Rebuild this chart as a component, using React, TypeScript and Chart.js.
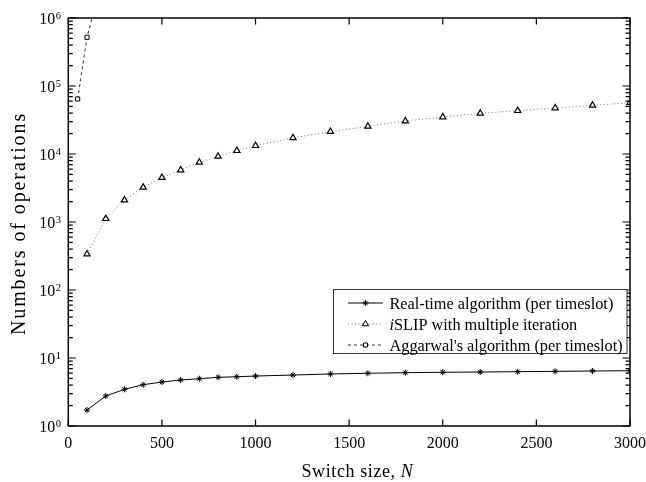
import React, { useEffect, useRef } from "react";
import { Chart, registerables } from "chart.js";

Chart.register(...registerables);

// ---- data ----
const switchSizes = [100, 200, 300, 400, 500, 600, 700, 800, 900, 1000, 1200, 1400, 1600, 1800, 2000, 2200, 2400, 2600, 2800, 3000];
const realTimeOps = [1.72, 2.76, 3.46, 4.05, 4.43, 4.75, 4.96, 5.2, 5.3, 5.43, 5.62, 5.82, 5.96, 6.08, 6.17, 6.22, 6.29, 6.37, 6.44, 6.5];
const islipOps = [338, 1118, 2100, 3240, 4490, 5820, 7550, 9250, 11190, 13250, 17300, 21300, 25550, 30560, 35000, 39650, 43350, 47460, 52000, 56800];
const aggarwalSizes = [50, 100, 150];
const aggarwalOps = [64400, 520000, 1755000];

const xTickValues = [0, 500, 1000, 1500, 2000, 2500, 3000];
const yExponents = [0, 1, 2, 3, 4, 5, 6];
const legendLabels = ["Real-time algorithm (per timeslot)", "SLIP with multiple iteration", "Aggarwal's algorithm (per timeslot)"];
const xTitle = "Switch size, ";
const yTitle = "Numbers of operations";

const SERIF = '"Liberation Serif", "Times New Roman", serif';

const decorPlugin = {
  id: "decor",
  afterDatasetsDraw(chart: any) {
    const { ctx, chartArea: a, scales } = chart;
    const x = scales.x;
    const y = scales.y;
    ctx.save();
    ctx.strokeStyle = "#000";
    ctx.lineWidth = 1.2;
    ctx.setLineDash([]);
    ctx.beginPath();
    for (const v of xTickValues) {
      const px = x.getPixelForValue(v);
      ctx.moveTo(px, a.bottom);
      ctx.lineTo(px, a.bottom - 6.5);
      ctx.moveTo(px, a.top);
      ctx.lineTo(px, a.top + 6.5);
    }
    for (const e of yExponents) {
      for (let k = 1; k <= 9; k++) {
        if (e === 6 && k > 1) break;
        const py = y.getPixelForValue(k * Math.pow(10, e));
        const len = k === 1 ? 7.5 : 4.5;
        ctx.moveTo(a.left, py);
        ctx.lineTo(a.left + len, py);
        ctx.moveTo(a.right, py);
        ctx.lineTo(a.right - len, py);
      }
    }
    ctx.stroke();
    ctx.lineWidth = 1.5;
    ctx.strokeRect(a.left, a.top, a.right - a.left, a.bottom - a.top);

    // x tick labels
    ctx.fillStyle = "#000";
    ctx.font = `16px ${SERIF}`;
    ctx.textAlign = "center";
    ctx.textBaseline = "alphabetic";
    for (const v of xTickValues) {
      ctx.fillText(String(v), x.getPixelForValue(v), a.bottom + 21.5);
    }
    // y tick labels 10^n
    for (const e of yExponents) {
      const py = y.getPixelForValue(Math.pow(10, e));
      ctx.font = `16px ${SERIF}`;
      ctx.textAlign = "right";
      ctx.fillText("10", a.left - 13, py + 6);
      ctx.font = `10.5px ${SERIF}`;
      ctx.textAlign = "left";
      ctx.fillText(String(e), a.left - 12.5, py + 1);
    }
    // x title
    const c2: any = ctx;
    c2.letterSpacing = "0.6px";
    ctx.font = `18px ${SERIF}`;
    const w1 = ctx.measureText(xTitle).width;
    const sx = 301.5;
    ctx.textAlign = "left";
    ctx.fillText(xTitle, sx, 477);
    ctx.font = `italic 18px ${SERIF}`;
    ctx.fillText("N", sx + w1, 477);
    // y title
    ctx.save();
    ctx.translate(24.5, 223.5);
    ctx.rotate(-Math.PI / 2);
    c2.letterSpacing = "1.9px";
    ctx.font = `20px ${SERIF}`;
    ctx.textAlign = "center";
    ctx.fillText(yTitle, 0, 0);
    ctx.restore();
    c2.letterSpacing = "0px";

    // legend
    const lx = 333.5, ly = 289.5, lw = 293.5, lh = 64;
    ctx.fillStyle = "#fff";
    ctx.fillRect(lx, ly, lw, lh);
    ctx.strokeStyle = "#333";
    ctx.lineWidth = 1;
    ctx.strokeRect(lx, ly, lw, lh);
    const rows = [303, 324, 345];
    const styles = [
      { dash: [] as number[], color: "#000" },
      { dash: [1, 2.5], color: "#777" },
      { dash: [3, 3], color: "#333" },
    ];
    for (let i = 0; i < 3; i++) {
      const ry = rows[i];
      ctx.strokeStyle = styles[i].color;
      ctx.setLineDash(styles[i].dash);
      ctx.lineWidth = 1;
      ctx.beginPath();
      ctx.moveTo(348, ry);
      ctx.lineTo(383, ry);
      ctx.stroke();
      ctx.setLineDash([]);
      ctx.strokeStyle = "#000";
      const mx = 365.5;
      ctx.beginPath();
      if (i === 0) {
        const r = 3;
        ctx.moveTo(mx - r, ry); ctx.lineTo(mx + r, ry);
        ctx.moveTo(mx, ry - r); ctx.lineTo(mx, ry + r);
        const d = r * 0.707;
        ctx.moveTo(mx - d, ry - d); ctx.lineTo(mx + d, ry + d);
        ctx.moveTo(mx - d, ry + d); ctx.lineTo(mx + d, ry - d);
        ctx.stroke();
      } else if (i === 1) {
        const r = 3.5;
        ctx.fillStyle = "#fff";
        ctx.moveTo(mx, ry - r);
        ctx.lineTo(mx + r * 0.866, ry + r * 0.5);
        ctx.lineTo(mx - r * 0.866, ry + r * 0.5);
        ctx.closePath();
        ctx.fill();
        ctx.stroke();
      } else {
        ctx.fillStyle = "#fff";
        ctx.rect(mx - 2, ry - 2, 4, 4);
        ctx.fill();
        ctx.stroke();
      }
      ctx.fillStyle = "#000";
      ctx.textAlign = "left";
      const tx = 389.5;
      const by = ry + 5.5;
      if (i === 1) {
        ctx.font = `italic 16.3px ${SERIF}`;
        ctx.fillText("i", tx, by);
        const wi = ctx.measureText("i").width;
        ctx.font = `16.3px ${SERIF}`;
        ctx.fillText(legendLabels[1], tx + wi, by);
      } else {
        ctx.font = `16.3px ${SERIF}`;
        ctx.fillText(legendLabels[i], tx, by);
      }
    }
    ctx.restore();
  },
};

export default function App() {
  const canvasRef = useRef<HTMLCanvasElement | null>(null);

  useEffect(() => {
    document.body.style.margin = "0";
    const canvas = canvasRef.current;
    if (!canvas) return;
    const chart = new Chart(canvas, {
      type: "line",
      data: {
        datasets: [
          {
            label: legendLabels[0],
            data: switchSizes.map((n, i) => ({ x: n, y: realTimeOps[i] })),
            borderColor: "#000",
            borderWidth: 1,
            pointStyle: "star",
            pointRadius: 3,
            pointBorderColor: "#000",
            pointBorderWidth: 1,
            pointBackgroundColor: "#000",
            tension: 0,
          },
          {
            label: legendLabels[1],
            data: switchSizes.map((n, i) => ({ x: n, y: islipOps[i] })),
            borderColor: "#777",
            borderWidth: 1,
            borderDash: [1, 2.5],
            pointStyle: "triangle",
            pointRadius: 3.6,
            pointBorderColor: "#000",
            pointBorderWidth: 1.2,
            pointBackgroundColor: "#fff",
            tension: 0,
          },
          {
            label: legendLabels[2],
            data: aggarwalSizes.map((n, i) => ({ x: n, y: aggarwalOps[i] })),
            borderColor: "#333",
            borderWidth: 1,
            borderDash: [3, 3],
            pointStyle: "rect",
            pointRadius: 2.9,
            pointBorderColor: "#000",
            pointBorderWidth: 1,
            pointBackgroundColor: "#fff",
            tension: 0,
          },
        ],
      },
      options: {
        responsive: false,
        animation: false,
        events: [],
        layout: { padding: { left: 68.3, right: 16, top: 18, bottom: 56 } },
        plugins: { legend: { display: false }, tooltip: { enabled: false }, title: { display: false } },
        scales: {
          x: { type: "linear", min: 0, max: 3000, display: false },
          y: { type: "logarithmic", min: 1, max: 1000000, display: false },
        },
      },
      plugins: [decorPlugin],
    });
    return () => chart.destroy();
  }, []);

  return (
    <div style={{ width: 646, height: 482, position: "absolute", left: 0, top: 0, background: "#fff" }}>
      <canvas ref={canvasRef} width={646} height={482} style={{ display: "block" }} />
    </div>
  );
}
